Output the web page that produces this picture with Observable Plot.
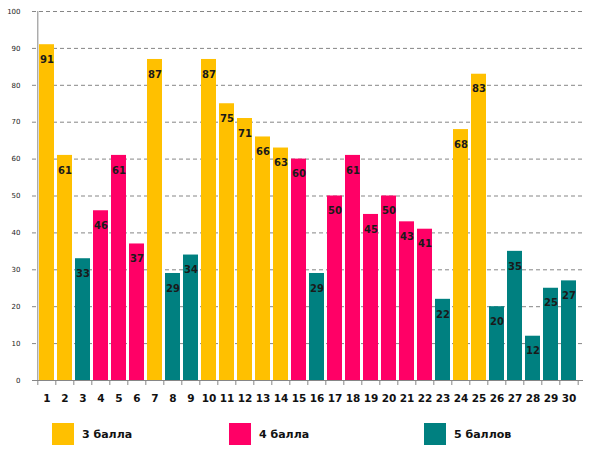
<!DOCTYPE html>
<html>
<head>
<meta charset="utf-8">
<script src="https://cdn.jsdelivr.net/npm/d3@7"></script>
<script src="https://cdn.jsdelivr.net/npm/@observablehq/plot@0.6"></script>
<style>
  body { margin: 0; background: #fff; font-family: "DejaVu Sans", sans-serif; }
  #wrap { position: relative; width: 589px; height: 453px; overflow: hidden; }
  .leg { position: absolute; top: 423px; display: flex; align-items: center; font-weight: bold; font-size: 11px; color: #111; }
  .leg span.sw { display: inline-block; width: 22px; height: 22px; margin-right: 8px; }
</style>
</head>
<body>
<div id="wrap">
  <div id="chart"></div>
</div>
<script>
// номера заданий
const tasks = [1, 2, 3, 4, 5, 6, 7, 8, 9, 10, 11, 12, 13, 14, 15,
               16, 17, 18, 19, 20, 21, 22, 23, 24, 25, 26, 27, 28, 29, 30];
// процент выполнения
const values = [91, 61, 33, 46, 61, 37, 87, 29, 34, 87, 75, 71, 66, 63, 60,
                29, 50, 61, 45, 50, 43, 41, 22, 68, 83, 20, 35, 12, 25, 27];
// уровень задания (индекс в grades)
const levels = [0, 0, 2, 1, 1, 1, 0, 2, 2, 0, 0, 0, 0, 0, 1,
                2, 1, 1, 1, 1, 1, 1, 2, 0, 0, 2, 2, 2, 2, 2];
const grades = ["3 балла", "4 балла", "5 баллов"];
const colors = ["#FFC000", "#FF0066", "#008080"];
const yTicks = [0, 10, 20, 30, 40, 50, 60, 70, 80, 90, 100];

const table = tasks.map((t, i) => ({ task: t, value: values[i], grade: grades[levels[i]] }));

const width = 589, marginLeft = 32, marginRight = 6;
const step = (width - marginLeft - marginRight) / tasks.length;
const axisColor = "#868686";

const chart = Plot.plot({
  width,
  height: 415,
  marginLeft,
  marginRight,
  marginTop: 11,
  marginBottom: 35,
  style: { fontFamily: "'DejaVu Sans', sans-serif", background: "#fff" },
  x: { type: "band", domain: tasks, paddingInner: 0.18, paddingOuter: 0.09, axis: null },
  y: { domain: [0, 100], axis: null },
  color: { domain: grades, range: colors },
  marks: [
    // сетка
    Plot.ruleY(yTicks.slice(1), { y: d => d, stroke: axisColor, strokeDasharray: "4,3" }),
    Plot.barY(table, { x: "task", y: "value", fill: "grade" }),
    // оси
    Plot.ruleY([0], { stroke: axisColor }),
    Plot.ruleX([tasks[0]], { x: d => d, y1: 0, y2: 100, dx: -step / 2, stroke: axisColor }),
    Plot.ruleX(tasks, { x: d => d, y1: 0, y2: 0, insetBottom: -5, dx: -step / 2, stroke: axisColor }),
    Plot.ruleX([tasks[tasks.length - 1]], { x: d => d, y1: 0, y2: 0, insetBottom: -5, dx: step / 2, stroke: axisColor }),
    // подписи
    Plot.text(yTicks, { y: d => d, frameAnchor: "left", dx: -12, textAnchor: "end", fontSize: 7, fill: "#222" }),
    Plot.text(tasks, { x: d => d, frameAnchor: "bottom", dy: 21, fontSize: 10.5, fontWeight: "bold", fill: "#111" }),
    Plot.text(table, { x: "task", y: "value", text: d => String(d.value), dy: 15, fontSize: 10, fontWeight: "bold", fill: "#1a1a1a" })
  ]
});
document.getElementById("chart").appendChild(chart);

// легенда
const legendX = [52, 229, 424];
const wrap = document.getElementById("wrap");
grades.forEach((g, i) => {
  const item = document.createElement("div");
  item.className = "leg";
  item.style.left = legendX[i] + "px";
  item.innerHTML = `<span class="sw" style="background:${colors[i]}"></span>${g}`;
  wrap.appendChild(item);
});
</script>
</body>
</html>
